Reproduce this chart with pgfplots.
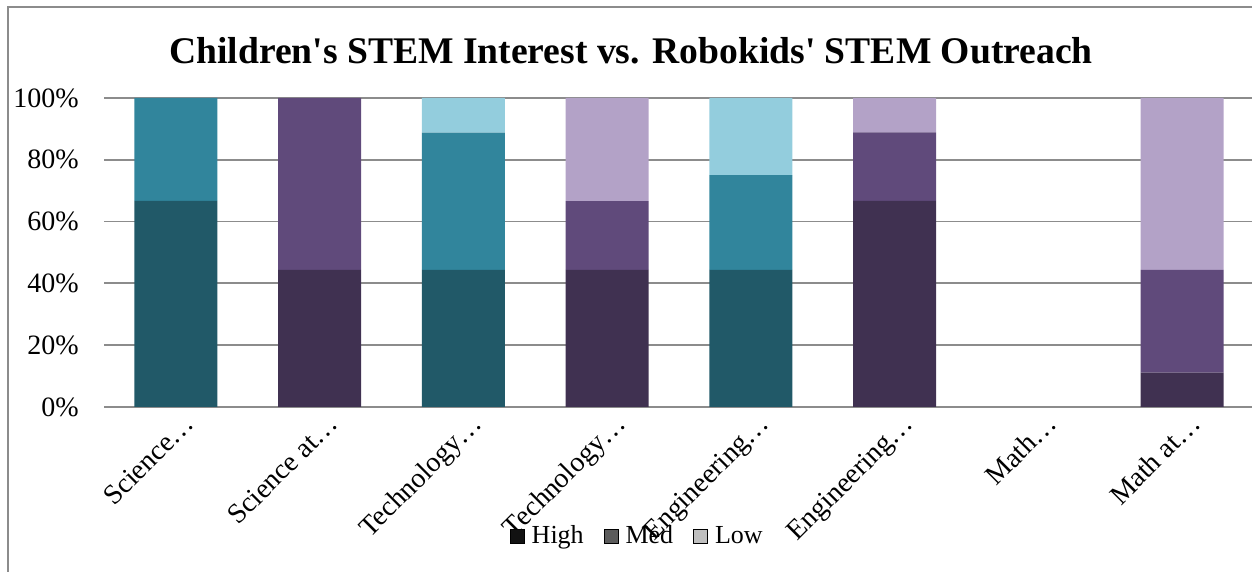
\documentclass[border=0pt]{standalone}
\usepackage{pgfplots}
\pgfplotsset{compat=1.18}
\usepackage{fontspec}
\setmainfont{Liberation Serif}
\definecolor{tH}{HTML}{215968}
\definecolor{tM}{HTML}{31859C}
\definecolor{tL}{HTML}{93CDDD}
\definecolor{pH}{HTML}{403151}
\definecolor{pM}{HTML}{604A7B}
\definecolor{pL}{HTML}{B3A2C7}
\definecolor{gridgray}{HTML}{8C8C8C}
\begin{document}
\begin{tikzpicture}
\path[use as bounding box] (0,0) rectangle (626pt,286pt);
\draw[gridgray, line width=1pt] (4pt,0) -- (4pt,282.5pt) -- (630pt,282.5pt);
\node[anchor=base, font=\fontsize{18.8}{22}\selectfont\bfseries] at (315.5pt,254.3pt) {Children\textquotesingle s STEM Interest vs. Robokids\textquotesingle\ STEM Outreach};
\begin{axis}[
  at={(52pt,82.5pt)}, anchor=south west,
  scale only axis, width=575pt, height=154.5pt,
  ybar stacked, bar width=41.5pt,
  xmin=-0.5, xmax=7.5, ymin=0, ymax=100,
  axis line style={draw=none},
  axis x line*=bottom, axis y line*=left,
  xtick={0,...,7},
  xticklabels={Science…,Science at…,Technology…,Technology…,Engineering…,Engineering…,Math…,Math at…},
  ytick={0,20,40,60,80,100},
  yticklabels={0\%,20\%,40\%,60\%,80\%,100\%},
  major tick length=0pt,
  ymajorgrids, grid style={gridgray, line width=0.9pt},
  yticklabel style={font=\fontsize{14}{16}\selectfont, anchor=east, inner sep=0pt, xshift=-12.5pt},
  xticklabel style={font=\fontsize{14}{16}\selectfont, inner sep=0pt, xshift=10pt, yshift=-9pt, rotate=45, anchor=base east},
  legend columns=3,
  legend style={draw=none, fill=none, inner sep=0pt, outer sep=0pt,
    at={(0.3530,-0.4175)}, anchor=west,
    font=\fontsize{13}{15}\selectfont,
    nodes={inner sep=0pt},
    /tikz/every odd column/.style={column sep=3.5pt},
    /tikz/every even column/.style={column sep=10pt}},
  legend image code/.code={\fill[#1] (0pt,-3.5pt) rectangle (7pt,3.5pt);},
]
\addplot[fill=tH, draw=none, forget plot] coordinates {(0,66.7) (1,0) (2,44.4) (3,0) (4,44.4) (5,0) (6,0) (7,0)};
\addplot[fill=pH, draw=none, forget plot] coordinates {(0,0) (1,44.4) (2,0) (3,44.4) (4,0) (5,66.7) (6,0) (7,11.1)};
\addplot[fill=tM, draw=none, forget plot] coordinates {(0,33.3) (1,0) (2,44.4) (3,0) (4,30.6) (5,0) (6,0) (7,0)};
\addplot[fill=pM, draw=none, forget plot] coordinates {(0,0) (1,55.6) (2,0) (3,22.2) (4,0) (5,22.2) (6,0) (7,33.3)};
\addplot[fill=tL, draw=none, forget plot] coordinates {(0,0) (1,0) (2,11.2) (3,0) (4,25.0) (5,0) (6,0) (7,0)};
\addplot[fill=pL, draw=none, forget plot] coordinates {(0,0) (1,0) (2,0) (3,33.4) (4,0) (5,11.1) (6,0) (7,55.6)};
\addlegendimage{fill=black!93}
\addlegendentry{High}
\addlegendimage{fill=black!64}
\addlegendentry{Med}
\addlegendimage{fill=black!25}
\addlegendentry{Low}
\end{axis}
\end{tikzpicture}
\end{document}
